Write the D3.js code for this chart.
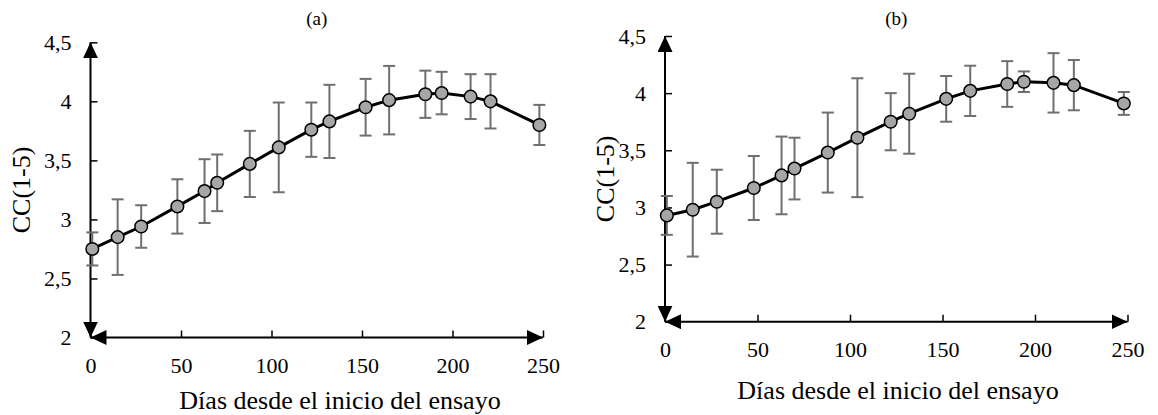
<!DOCTYPE html>
<html>
<head>
<meta charset="utf-8">
<script src="https://cdn.jsdelivr.net/npm/d3@7"></script>
<style>
  body { margin: 0; background: #fff; }
</style>
</head>
<body>
<div id="chart"></div>
<script>
// days since start of trial (same sampling for both panels)
const days = [1, 15, 28, 48, 63, 70, 88, 104, 122, 132, 152, 165, 185, 194, 210, 221, 248];

// panel (a)
const meanA = [2.75, 2.85, 2.94, 3.11, 3.24, 3.31, 3.47, 3.61, 3.76, 3.83, 3.95, 4.01, 4.06, 4.07, 4.04, 4.00, 3.80];
const errA  = [0.14, 0.32, 0.18, 0.23, 0.27, 0.24, 0.28, 0.38, 0.23, 0.31, 0.24, 0.29, 0.20, 0.18, 0.19, 0.23, 0.17];

// panel (b)
const meanB = [2.93, 2.98, 3.05, 3.17, 3.28, 3.34, 3.48, 3.61, 3.75, 3.82, 3.95, 4.02, 4.08, 4.10, 4.09, 4.07, 3.91];
const errB  = [0.17, 0.41, 0.28, 0.28, 0.34, 0.27, 0.35, 0.52, 0.25, 0.35, 0.20, 0.22, 0.20, 0.09, 0.26, 0.22, 0.10];

const xTicks = [0, 50, 100, 150, 200, 250];
const yTicks = [2, 2.5, 3, 3.5, 4, 4.5];
const xTitle = "Días desde el inicio del ensayo";
const yTitle = "CC(1-5)";

const width = 1158, height = 415;
const serif = '"Liberation Serif", "Times New Roman", Tinos, serif';

const svg = d3.select("#chart")
  .append("svg")
  .attr("width", width)
  .attr("height", height);

// arrow head used on both ends of every axis
svg.append("defs").append("marker")
  .attr("id", "arrow")
  .attr("markerUnits", "userSpaceOnUse")
  .attr("viewBox", "0 0 16 15")
  .attr("refX", 16)
  .attr("refY", 7.5)
  .attr("markerWidth", 16)
  .attr("markerHeight", 15)
  .attr("orient", "auto-start-reverse")
  .append("path")
  .attr("d", "M0,0L16,7.5L0,15Z")
  .attr("fill", "#000");

function panel(p) {
  const x = d3.scaleLinear().domain([0, 250]).range([p.x0, p.x1]);
  const y = d3.scaleLinear().domain([2, 4.5]).range([p.y0, p.y1]);
  const fmt = d => String(d).replace(".", ",");

  const g = svg.append("g");

  // axes: ticks drawn inside, domain replaced by arrowed lines
  const xa = g.append("g")
    .attr("transform", `translate(0,${p.y0})`)
    .call(d3.axisBottom(x).tickValues(xTicks).tickSize(-7).tickPadding(20).tickFormat(fmt));
  const ya = g.append("g")
    .attr("transform", `translate(${p.x0},0)`)
    .call(d3.axisLeft(y).tickValues(yTicks).tickSize(-7).tickPadding(19).tickFormat(fmt));

  [xa, ya].forEach(a => {
    a.select(".domain").remove();
    a.selectAll(".tick line").attr("stroke", "#000").attr("stroke-width", 1.5);
    a.selectAll(".tick text")
      .style("font-family", serif)
      .style("font-size", "22px")
      .attr("fill", "#000");
  });

  g.append("line")
    .attr("x1", x(0)).attr("x2", x(250))
    .attr("y1", y(2)).attr("y2", y(2))
    .attr("stroke", "#000").attr("stroke-width", 2)
    .attr("marker-start", "url(#arrow)").attr("marker-end", "url(#arrow)");
  g.append("line")
    .attr("x1", x(0)).attr("x2", x(0))
    .attr("y1", y(2)).attr("y2", y(4.5))
    .attr("stroke", "#000").attr("stroke-width", 2)
    .attr("marker-start", "url(#arrow)").attr("marker-end", "url(#arrow)");

  const data = days.map((d, i) => ({ day: d, v: p.mean[i], e: p.err[i] }));

  // error bars
  const eb = g.append("g")
    .attr("stroke", "#6f6f6f")
    .attr("stroke-width", 2)
    .selectAll("g")
    .data(data)
    .join("g");
  eb.append("line")
    .attr("x1", d => x(d.day)).attr("x2", d => x(d.day))
    .attr("y1", d => y(d.v - d.e)).attr("y2", d => y(d.v + d.e));
  eb.append("line")
    .attr("x1", d => x(d.day) - 6).attr("x2", d => x(d.day) + 6)
    .attr("y1", d => y(d.v + d.e)).attr("y2", d => y(d.v + d.e));
  eb.append("line")
    .attr("x1", d => x(d.day) - 6).attr("x2", d => x(d.day) + 6)
    .attr("y1", d => y(d.v - d.e)).attr("y2", d => y(d.v - d.e));

  g.append("path")
    .datum(data)
    .attr("fill", "none")
    .attr("stroke", "#000")
    .attr("stroke-width", 3)
    .attr("d", d3.line().x(d => x(d.day)).y(d => y(d.v)));

  g.append("g")
    .selectAll("circle")
    .data(data)
    .join("circle")
    .attr("cx", d => x(d.day))
    .attr("cy", d => y(d.v))
    .attr("r", 6.3)
    .attr("fill", "#a6a6a6")
    .attr("stroke", "#000")
    .attr("stroke-width", 1.5);

  g.append("text")
    .attr("x", (p.x0 + p.x1) / 2)
    .attr("y", 25)
    .attr("text-anchor", "middle")
    .style("font-family", serif)
    .style("font-size", "19px")
    .text(p.label);

  g.append("text")
    .attr("x", p.titleX)
    .attr("y", p.titleY)
    .attr("text-anchor", "middle")
    .style("font-family", serif)
    .style("font-size", "26px")
    .text(xTitle);

  g.append("text")
    .attr("transform", `translate(${p.ylabX},${(p.y0 + p.y1) / 2}) rotate(-90)`)
    .attr("text-anchor", "middle")
    .style("font-family", serif)
    .style("font-size", "26px")
    .text(yTitle);
}

panel({ label: "(a)", mean: meanA, err: errA, x0: 90.5, x1: 543, y0: 337.5, y1: 42.3, titleX: 340, titleY: 409, ylabX: 30 });
panel({ label: "(b)", mean: meanB, err: errB, x0: 665, x1: 1127.5, y0: 321.7, y1: 36, titleX: 898, titleY: 399, ylabX: 614 });
</script>
</body>
</html>
